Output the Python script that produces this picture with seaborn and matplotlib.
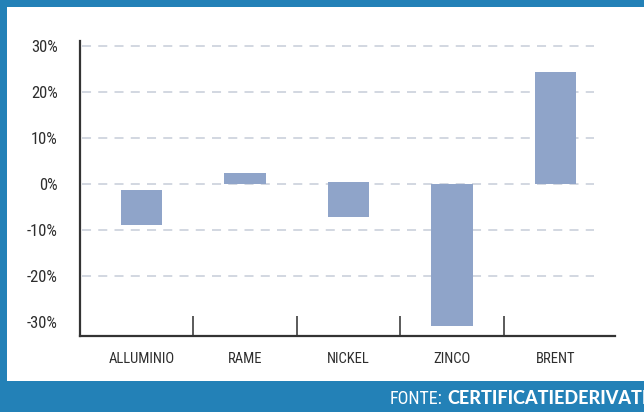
import matplotlib
matplotlib.use("Agg")
import matplotlib.pyplot as plt
import seaborn as sns
import pandas as pd
from matplotlib.patches import Rectangle
from matplotlib.ticker import FixedLocator
from matplotlib import font_manager as fm

# ---- data ----
categories = ["ALLUMINIO", "RAME", "NICKEL", "ZINCO", "BRENT"]
bar_start = [-1.2, 0.0, 0.4, 0.0, 0.0]
bar_end = [-8.9, 2.5, -7.2, -30.8, 24.3]
ytick_values = [-30, -20, -10, 0, 10, 20, 30]
ytick_labels = ["-30%", "-20%", "-10%", "0%", "10%", "20%", "30%"]
grid_values = [-20, -10, 0, 10, 20, 30]
source_prefix = "FONTE:"
source_name = "CERTIFICATIEDERIVATI"

sns.set_theme(style="white")


def find_narrow():
    entries = fm.fontManager.ttflist
    prefer = ["Roboto Condensed", "Liberation Sans Narrow", "DejaVu Sans Condensed",
              "Open Sans Condensed", "Noto Sans Condensed", "Noto Sans ExtraCondensed",
              "Noto Sans SemiCondensed"]
    for name in prefer:
        for f in entries:
            if f.name == name and f.style == "normal" and f.weight in (400, "normal", "regular"):
                return f.fname
        for f in entries:
            if f.name == name and f.style == "normal":
                return f.fname
    for f in entries:
        if str(f.stretch) in ("condensed", "extra-condensed", "ultra-condensed",
                              "semi-condensed") and f.style == "normal":
            return f.fname
    for f in entries:
        low = f.fname.lower()
        if ("condensed" in low or "narrow" in low) and "bold" not in low and "italic" not in low:
            return f.fname
    return None


narrow_path = find_narrow()
if narrow_path:
    NARROW = fm.FontProperties(fname=narrow_path)
    scale = 1.0
else:
    NARROW = fm.FontProperties(family=["Roboto", "DejaVu Sans"])
    scale = 0.8
plt.rcParams["font.family"] = ["DejaVu Sans"]

BLUE = "#2381b7"
BAR = "#8fa4c9"
GRID = "#cfd4de"
DARK = "#2e2e2e"

W, H = 644, 412
fig = plt.figure(figsize=(W / 100, H / 100), dpi=100)
fig.patch.set_facecolor(BLUE)
fig.add_artist(Rectangle((7 / W, 31 / H), 1 - 7 / W, 1 - 7 / H - 31 / H,
                         transform=fig.transFigure, facecolor="white",
                         edgecolor="none", zorder=-1))
ax = fig.add_axes([80 / W, 1 - 336 / H, 535 / W, 295 / H])
ax.set_facecolor("none")

df = pd.DataFrame({"cat": categories, "start": bar_start, "end": bar_end})
df["height"] = df["end"] - df["start"]

sns.barplot(data=df, x="cat", y="height", order=categories,
            bottom=df["start"].to_numpy(), color=BAR, saturation=1,
            width=0.4, errorbar=None, ax=ax, zorder=3, linewidth=0)

xmin, xmax = -0.594, 4.575
ax.set_xlim(xmin, xmax)
ax.set_ylim(-33.0, 31.1)

ax.hlines(grid_values, xmin + 0.02, 4.372, colors=GRID, linewidth=1.3,
          linestyles=(0, (5.0, 4.0)), zorder=1)

ax.set_yticks(ytick_values)
ax.set_yticklabels(ytick_labels)
ax.set_xlabel("")
ax.set_ylabel("")
ax.tick_params(axis="y", length=0, pad=16)
ax.tick_params(axis="x", which="major", length=0, pad=11.5)
for lab in ax.get_yticklabels():
    lab.set_fontproperties(NARROW)
    lab.set_fontsize(12 * scale)
    lab.set_color(DARK)
for lab in ax.get_xticklabels():
    lab.set_fontproperties(NARROW)
    lab.set_fontsize(10.5 * scale)
    lab.set_color(DARK)
ax.xaxis.set_minor_locator(FixedLocator([0.5, 1.5, 2.5, 3.5]))
ax.tick_params(axis="x", which="minor", direction="in", length=14.4,
               width=1.1, color=DARK, bottom=True)

for s in ["top", "right"]:
    ax.spines[s].set_visible(False)
for s in ["left", "bottom"]:
    ax.spines[s].set_color("#333333")
    ax.spines[s].set_linewidth(1.6)
ax.grid(False)

t1 = fig.text(390 / W, 8 / H, source_prefix, color="white",
              ha="left", va="baseline", fontproperties=NARROW)
t1.set_fontsize(13 * scale)
fig.text(447 / W, 8 / H, source_name, color="white", fontsize=13,
         fontweight="black", family=["Lato", "DejaVu Sans"],
         ha="left", va="baseline")

fig.savefig("out.png", dpi=100, facecolor=fig.get_facecolor())
